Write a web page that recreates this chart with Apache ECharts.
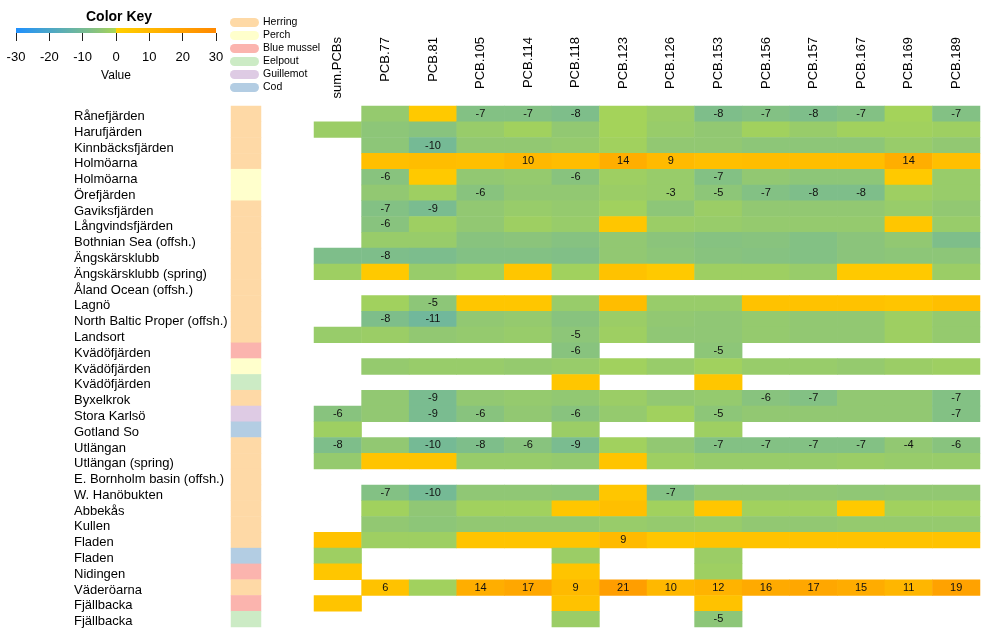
<!DOCTYPE html>
<html><head><meta charset="utf-8">
<script src="https://cdn.jsdelivr.net/npm/echarts@6/dist/echarts.min.js"></script>
<style>html,body{margin:0;padding:0;background:#fff}#c{width:992px;height:640px}</style>
</head><body><div id="c"></div>
<script>
// ---------------- data ----------------
const sites = ['Rånefjärden','Harufjärden','Kinnbäcksfjärden','Holmöarna','Holmöarna','Örefjärden',
  'Gaviksfjärden','Långvindsfjärden','Bothnian Sea (offsh.)','Ängskärsklubb','Ängskärsklubb (spring)',
  'Åland Ocean (offsh.)','Lagnö','North Baltic Proper (offsh.)','Landsort','Kvädöfjärden','Kvädöfjärden',
  'Kvädöfjärden','Byxelkrok','Stora Karlsö','Gotland So','Utlängan','Utlängan (spring)',
  'E. Bornholm basin (offsh.)','W. Hanöbukten','Abbekås','Kullen','Fladen','Fladen','Nidingen',
  'Väderöarna','Fjällbacka','Fjällbacka'];
const speciesNames = ['Herring','Perch','Blue mussel','Eelpout','Guillemot','Cod'];
const speciesColors = ['#FED9A6','#FFFFCC','#FBB4AE','#CCEBC5','#DECBE4','#B3CDE3'];
// species index per site row
const siteSpecies = [0,0,0,0,1,1,0,0,0,0,0,0,0,0,0,2,1,3,0,4,5,0,0,0,0,0,0,0,5,2,0,2,3];
const compounds = ['sum.PCBs','PCB.77','PCB.81','PCB.105','PCB.114','PCB.118','PCB.123',
  'PCB.126','PCB.153','PCB.156','PCB.157','PCB.167','PCB.169','PCB.189'];
const keyTicks = [-30,-20,-10,0,10,20,30];
const N = null;
const values = [
  [N,-3.5,3,-7,-7,-8,-1,-2.5,-8,-7,-8,-7,-1,-7],
  [-2.5,-5,-6,-3,-1.5,-4,-1,-3,-4,-1.5,-3,-1.5,-1.5,-2],
  [N,-5,-10,-4,-4,-3.5,-1.5,-4,-4,-5,-5,-5,-3,-4],
  [N,7,8,7,10,8,14,9,7,8,7.5,7.5,14,7],
  [N,-6,3,-4,-3.5,-6,-2,-3,-7,-4,-5,-5,3,-3],
  [N,-4,-2,-6,-4,-4,-2.5,-3,-5,-7,-8,-8,-2,-3],
  [N,-7,-9,-4,-3,-3.5,-1.5,-5,-2.5,-4,-4,-4,-3,-4],
  [N,-6,-2,-4,-2,-3,4,-2.5,-3,-3.5,-3.5,-3.5,4,-3],
  [N,-3,-3,-6,-5.5,-6.5,-4,-5.5,-6.5,-6,-7,-5.5,-4,-8],
  [-8,-8,-8.5,-7,-7,-7.5,-4,-5,-6,-6.5,-7,-5.5,-5,-5],
  [-2,3,-3,-1.5,4,-1.5,6,3,-2,-2,-3,3,3,-2.5],
  [N,N,N,N,N,N,N,N,N,N,N,N,N,N],
  [N,-1.5,-5,4,4,-3,8,-3,-3,6,6,6,4.5,7],
  [N,-8,-11,-4,-3.5,-6,-2.5,-4,-4.5,-3.5,-4,-4,-2,-3.5],
  [-3,-2.5,-4,-3.5,-3,-5,-2,-4.5,-4.5,-3.5,-4,-4,-2,-3.5],
  [N,N,N,N,N,-6,N,N,-5,N,N,N,N,N],
  [N,-3.5,-3,-3,-3.5,-3,-1.5,-3,-1.5,-3,-3,-3.5,-2.5,-2],
  [N,N,N,N,N,4,N,N,4,N,N,N,N,N],
  [N,-4,-9,-4,-3.5,-4,-2.5,-4,-3.5,-6,-7,-4,-4,-7],
  [-6,-4,-9,-6,-4,-6,-3.5,-1.5,-5,-4,-4,-4,-4,-7],
  [-2,N,N,N,N,-2.5,N,N,-2,N,N,N,N,N],
  [-8,-4,-10,-8,-6,-9,-1.5,-4,-7,-7,-7,-7,-4,-6],
  [-3.5,5,5,-3,-3,-3.5,5,-2,-3,-3,-3,-2.5,-3,-3],
  [N,N,N,N,N,N,N,N,N,N,N,N,N,N],
  [N,-7,-10,-4.5,-4.5,-5,4,-7,-4,-4,-4,-4.5,-4,-4],
  [N,-1.5,-4.5,-1.5,-1.5,4,7,-1.5,4,-1.5,-1.5,3,-1.5,-1.5],
  [N,-4,-5,-4,-4,-4,-3,-3.5,-3,-4,-4,-3.5,-3.5,-3.5],
  [6,-2,-2,5,5,5,9,4,5.5,5.5,5.5,5.5,5.5,5.5],
  [-2,N,N,N,N,-2.5,N,N,-2.5,N,N,N,N,N],
  [4,N,N,N,N,5,N,N,-2,N,N,N,N,N],
  [N,6,-1.5,14,17,9,21,10,12,16,17,15,11,19],
  [5,N,N,N,N,6,N,N,6,N,N,N,N,N],
  [N,N,N,N,N,-2.5,N,N,-5,N,N,N,N,N]
];
// cells whose value is printed: [row, column]
const labelled = [
  [0,3],[0,4],[0,5],[0,8],[0,9],[0,10],[0,11],[0,13],
  [2,2],[3,4],[3,6],[3,7],[3,12],[4,1],[4,5],[4,8],
  [5,3],[5,7],[5,8],[5,9],[5,10],[5,11],[6,1],[6,2],[7,1],[9,1],
  [12,2],[13,1],[13,2],[14,5],[15,5],[15,8],
  [18,2],[18,9],[18,10],[18,13],
  [19,0],[19,2],[19,3],[19,5],[19,8],[19,13],
  [21,0],[21,2],[21,3],[21,4],[21,5],[21,8],[21,9],[21,10],[21,11],[21,12],[21,13],
  [24,1],[24,2],[24,7],[27,6],
  [30,1],[30,3],[30,4],[30,5],[30,6],[30,7],[30,8],[30,9],[30,10],[30,11],[30,12],[30,13],
  [32,8]
];

// ---------------- colour scale ----------------
const negStops = [[-30,[30,144,255]],[-20,[75,166,200]],[-12,[108,182,160]],[-8,[126,190,138]],
                  [-4,[146,200,114]],[0,[170,214,82]]];
const posStops = [[0,[255,208,0]],[30,[255,136,0]]];
function interp(stops, v){
  for (let i=0;i<stops.length-1;i++){
    const [a,ca]=stops[i],[b,cb]=stops[i+1];
    if (v>=a && v<=b){
      const t=(v-a)/(b-a);
      return 'rgb('+ca.map((x,k)=>Math.round(x+(cb[k]-x)*t)).join(',')+')';
    }
  }
  const c = v<stops[0][0]?stops[0][1]:stops[stops.length-1][1];
  return 'rgb('+c.join(',')+')';
}
function colorAt(v){ return v<0 ? interp(negStops,v) : interp(posStops,v); }
const scaleColors = [];
for (let i=0;i<=120;i++) scaleColors.push(colorAt(-30+i*0.5));

// ---------------- build ----------------
const labelSet = new Set(labelled.map(p=>p[0]+'_'+p[1]));
const cells = [];
values.forEach((row,r)=>row.forEach((v,c)=>{ if(v!==null) cells.push([c,r,v]); }));
const speciesCells = siteSpecies.map((s,r)=>[0,r,s]);

const FONT = 'Liberation Sans';
const gradStops = negStops.map(s=>({offset:(s[0]+30)/60*0.9999,color:colorAt(s[0]-0.0001)}))
  .concat([{offset:0.5,color:colorAt(0)},{offset:1,color:colorAt(30)}]);
gradStops[0].color = colorAt(-30);
const legendGraphics = [];
speciesNames.forEach((n,i)=>{
  legendGraphics.push({type:'rect',shape:{x:230,y:18+13*i,width:29,height:9,r:4.5},style:{fill:speciesColors[i]}});
  legendGraphics.push({type:'text',x:263,y:22.5+13*i,style:{text:n,fill:'#000',font:'10.5px '+FONT,verticalAlign:'middle',align:'left'}});
});

const chart = echarts.init(document.getElementById('c'), null, {renderer:'canvas'});
chart.setOption({
  backgroundColor:'#fff',
  animation:false,
  textStyle:{fontFamily:FONT},
  title:{text:'Color Key',left:81,top:5,textStyle:{fontSize:14,fontWeight:'bold',color:'#000',fontFamily:FONT}},
  grid:[
    {left:314,top:106,width:666,height:521,outerBoundsMode:'none',containLabel:false},
    {left:231,top:106,width:30,height:521,outerBoundsMode:'none',containLabel:false},
    {left:16,top:28,width:200,height:5,outerBoundsMode:'none',containLabel:false},
    {left:314,top:0,width:666,height:30,outerBoundsMode:'none',containLabel:false}
  ],
  xAxis:[
    {type:'category',gridIndex:0,data:compounds,show:false},
    {type:'category',gridIndex:1,data:['species'],show:false},
    {type:'value',gridIndex:2,min:-30,max:30,interval:10,position:'bottom',
     axisLine:{show:false},splitLine:{show:false},
     axisTick:{show:true,length:8,lineStyle:{color:'#222',width:1}},
     axisLabel:{margin:18,fontSize:13,color:'#000',fontFamily:FONT,customValues:keyTicks},
     name:'Value',nameLocation:'middle',nameGap:37,nameTextStyle:{fontSize:12,color:'#000',fontFamily:FONT}},
    {type:'category',gridIndex:3,data:compounds,position:'bottom',
     axisLine:{show:false},axisTick:{show:false},splitLine:{show:false},
     axisLabel:{interval:0,rotate:90,margin:7,fontSize:13,color:'#000',fontFamily:FONT}}
  ],
  yAxis:[
    {type:'category',gridIndex:0,data:sites,inverse:true,
     axisLine:{show:false},axisTick:{show:false},splitLine:{show:false},
     axisLabel:{interval:0,align:'left',margin:240,color:'#000',
       formatter:v=>'{s|'+v+'}',
       rich:{s:{fontSize:13,color:'#000',fontFamily:FONT,padding:[5,0,0,0]}}}},
    {type:'category',gridIndex:1,data:sites,inverse:true,show:false},
    {type:'value',gridIndex:2,show:false,min:0,max:1},
    {type:'value',gridIndex:3,show:false,min:0,max:1}
  ],
  visualMap:[
    {type:'continuous',show:false,seriesIndex:0,dimension:2,min:-30,max:30,inRange:{color:scaleColors}},
    {type:'piecewise',show:false,seriesIndex:1,dimension:2,
     pieces:speciesNames.map((n,i)=>({value:i,label:n,color:speciesColors[i]}))}
  ],
  graphic:[
    {type:'rect',shape:{x:16,y:28,width:200,height:5},
     style:{fill:{type:'linear',x:0,y:0,x2:1,y2:0,colorStops:gradStops}}},
    ...legendGraphics
  ],
  series:[
    {type:'heatmap',xAxisIndex:0,yAxisIndex:0,data:cells,
     itemStyle:{borderWidth:0},
     emphasis:{disabled:true},
     label:{show:true,fontSize:11,color:'#111',fontFamily:FONT,
       formatter:p=>labelSet.has(p.value[1]+'_'+p.value[0]) ? String(p.value[2]) : ''}},
    {type:'heatmap',xAxisIndex:1,yAxisIndex:1,data:speciesCells,
     itemStyle:{borderWidth:0},emphasis:{disabled:true}}
  ]
});
</script></body></html>
